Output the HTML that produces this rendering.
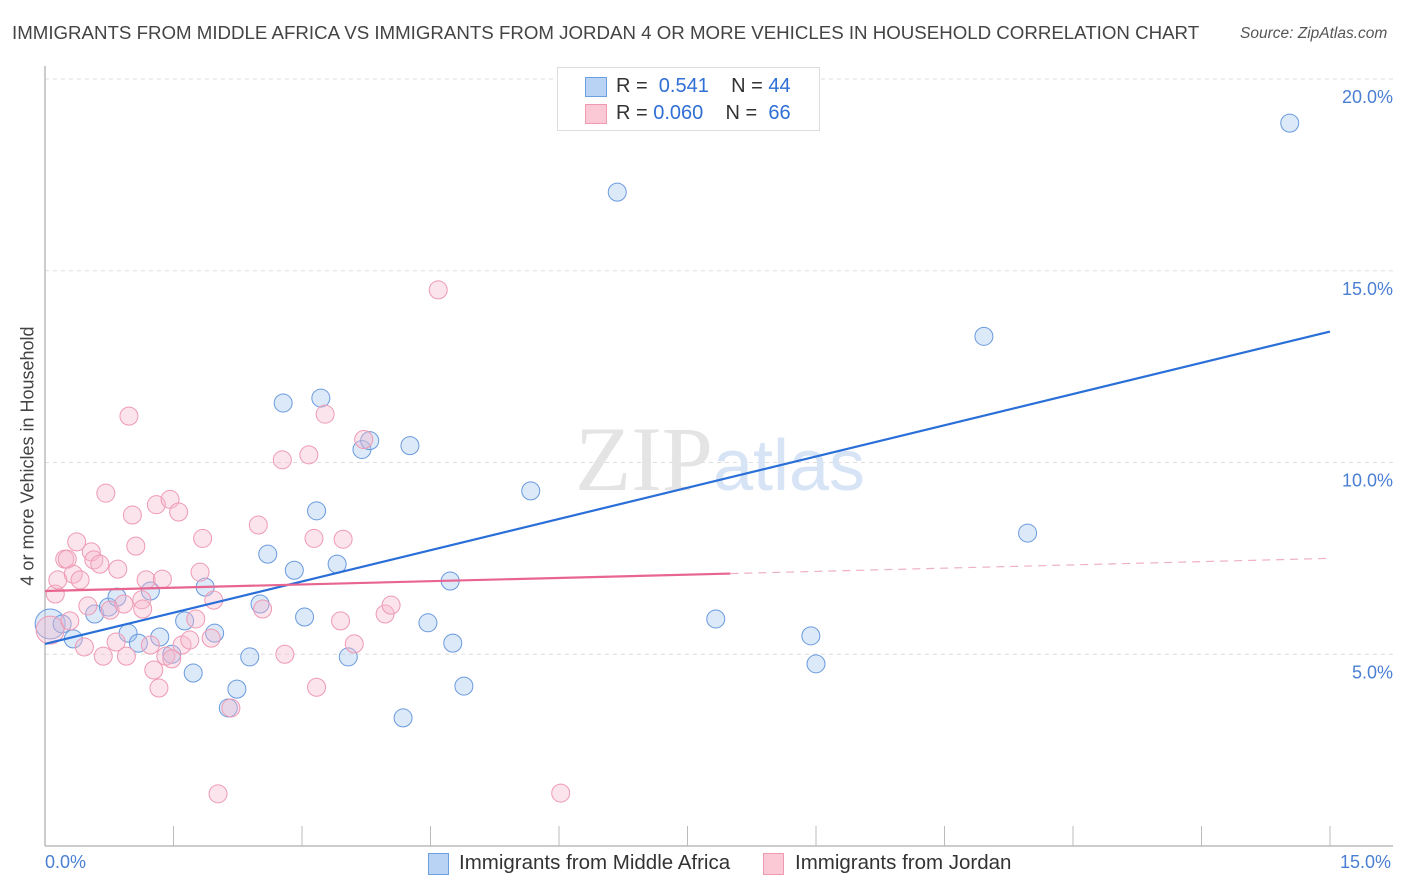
<!DOCTYPE html>
<html><head><meta charset="utf-8"><style>
body{margin:0;background:#fff;font-family:"Liberation Sans",sans-serif;}
#wrap{position:relative;width:1406px;height:892px;overflow:hidden;}
.t{position:absolute;white-space:nowrap;}
</style></head><body>
<div id="wrap">
<div class="t" style="left:12px;top:22px;font-size:18.7px;color:#444;">IMMIGRANTS FROM MIDDLE AFRICA VS IMMIGRANTS FROM JORDAN 4 OR MORE VEHICLES IN HOUSEHOLD CORRELATION CHART</div>
<div class="t" style="left:1240px;top:25px;font-size:15.5px;color:#555;font-style:italic;">Source: ZipAtlas.com</div>
<div class="t" style="left:28px;top:456px;font-size:18px;color:#444;transform:translate(-50%,-50%) rotate(-90deg);">4 or more Vehicles in Household</div>
<svg id="svg" width="1406" height="892" style="position:absolute;left:0;top:0"></svg>
<div style="position:absolute;left:557px;top:67px;width:261px;height:62px;border:1px solid #ddd;background:#fff;">
 <div style="position:absolute;left:27px;top:9px;width:20px;height:18px;background:#b9d3f5;border:1px solid #6e9fe0;"></div>
 <div class="t" style="left:58px;top:7px;font-size:20px;color:#333;">R = &nbsp;<span style="color:#2f6fd6">0.541</span>&nbsp;&nbsp;&nbsp; N = <span style="color:#2f6fd6">44</span></div>
 <div style="position:absolute;left:27px;top:36px;width:20px;height:18px;background:#fbc8d6;border:1px solid #ee9ab2;"></div>
 <div class="t" style="left:58px;top:34px;font-size:20px;color:#333;">R = <span style="color:#2f6fd6">0.060</span>&nbsp;&nbsp;&nbsp; N = &nbsp;<span style="color:#2f6fd6">66</span></div>
</div>
<div class="t" style="left:45px;top:852px;font-size:18px;color:#4a7fd4;">0.0%</div>
<div class="t" style="left:1340px;top:852px;font-size:18px;color:#4a7fd4;">15.0%</div>
<div style="position:absolute;left:428px;top:853px;width:19px;height:20px;background:#b9d3f5;border:1px solid #6e9fe0;"></div>
<div class="t" style="left:459px;top:851px;font-size:20.5px;color:#333;">Immigrants from Middle Africa</div>
<div style="position:absolute;left:763px;top:853px;width:19px;height:20px;background:#fbc8d6;border:1px solid #ee9ab2;"></div>
<div class="t" style="left:795px;top:851px;font-size:20.5px;color:#333;">Immigrants from Jordan</div>
</div>
<script>
const yTicks=[5,10,15,20];
const yTickLabels=["5.0%","10.0%","15.0%","20.0%"];
const xTickCount=10;
const blueX=[0.06,0.2,0.33,0.58,0.74,0.84,0.97,1.09,1.23,1.34,1.48,1.63,1.73,1.87,1.98,2.14,2.24,2.39,2.51,2.6,2.78,2.91,3.03,3.17,3.22,3.41,3.54,3.7,3.79,4.18,4.26,4.47,4.73,4.76,4.89,5.67,6.68,7.83,8.94,9.0,10.96,11.47,14.53];
const blueY=[5.79,5.79,5.4,6.05,6.23,6.49,5.55,5.29,6.65,5.45,5.0,5.87,4.51,6.75,5.55,3.6,4.09,4.93,6.31,7.61,11.55,7.19,5.97,8.74,11.68,7.35,4.93,10.34,10.57,3.34,10.44,5.82,6.91,5.29,4.17,9.26,17.05,5.92,5.48,4.75,13.29,8.16,18.85];
const pinkX=[0.06,0.12,0.15,0.23,0.26,0.29,0.33,0.37,0.41,0.46,0.5,0.54,0.57,0.64,0.68,0.71,0.76,0.83,0.85,0.92,0.95,0.98,1.02,1.06,1.13,1.14,1.18,1.23,1.27,1.3,1.33,1.37,1.41,1.46,1.48,1.56,1.6,1.69,1.76,1.81,1.84,1.94,1.97,2.02,2.17,2.49,2.54,2.77,2.8,3.08,3.14,3.17,3.27,3.45,3.48,3.61,3.72,3.97,4.04,4.59,6.02];
const pinkY=[5.63,6.57,6.94,7.48,7.48,5.87,7.09,7.93,6.94,5.19,6.26,7.67,7.46,7.35,4.95,9.2,6.15,5.32,7.22,6.31,4.95,11.21,8.63,7.82,6.42,6.18,6.94,5.24,4.59,8.9,4.12,6.96,4.95,9.04,4.88,8.71,5.24,5.37,5.92,7.14,8.02,5.42,6.41,1.36,3.6,8.37,6.18,10.07,5.0,10.2,8.02,4.14,11.26,5.87,8.0,5.27,10.6,6.05,6.28,14.5,1.38];
// trend line parameters (intercept, slope)
const blueTrend=[5.27,0.543];
const pinkTrend=[6.65,0.0567];
const pinkSolidEnd=8.0;

const svg=document.getElementById('svg');
const NS='http://www.w3.org/2000/svg';
const X0=45,X1=1330,Y0=846,Y20=79;
const xs=v=>X0+v/15*(X1-X0);
const ys=v=>Y0-v/20*(Y0-Y20);
function mk(tag,attrs){const e=document.createElementNS(NS,tag);for(const k in attrs)e.setAttribute(k,attrs[k]);svg.appendChild(e);return e;}
yTicks.forEach((t,i)=>{
 const g=mk('line',{x1:X0,x2:1393,y1:ys(t),y2:ys(t),stroke:'#ddd','stroke-dasharray':'4,4'});
 
 
 const tx=mk('text',{x:1393,y:ys(t)+24,'text-anchor':'end','font-size':18,fill:'#4a7fd4','font-family':'Liberation Sans, sans-serif'});
 tx.textContent=yTickLabels[i];
 
 
});
const ax=mk('line',{x1:X0,x2:1393,y1:Y0,y2:Y0,stroke:'#bbb','stroke-width':1.5});


const ay=mk('line',{x1:X0,x2:X0,y1:66,y2:Y0,stroke:'#bbb','stroke-width':1.5});


for(let i=0;i<=xTickCount;i++){
 const x=xs(15*i/xTickCount);
 const tk=mk('line',{x1:x,x2:x,y1:826,y2:Y0,stroke:'#bbb'});
 
 
}
const wm=mk('text',{x:720,y:490,'text-anchor':'middle','font-size':92,fill:'#e4e4e4','font-family':'Liberation Serif, serif'});
wm.innerHTML='ZIP<tspan font-family="Liberation Sans, sans-serif" font-size="72" fill="#d7e4f6">atlas</tspan>';


blueX.forEach((v,i)=>{
 const c=mk('circle',{cx:xs(v),cy:ys(blueY[i]),r:i==0?15:9,fill:'rgba(160,196,240,0.38)',stroke:'#6a9ade','stroke-width':1});
 
 
});
pinkX.forEach((v,i)=>{
 const c=mk('circle',{cx:xs(v),cy:ys(pinkY[i]),r:i==0?14:9,fill:'rgba(248,185,205,0.38)',stroke:'#ee9ab3','stroke-width':1});
 
 
});
const bl=mk('line',{x1:xs(0),y1:ys(blueTrend[0]),x2:xs(15),y2:ys(blueTrend[0]+blueTrend[1]*15),stroke:'#2a6fd8','stroke-width':2.2});


const pl=mk('line',{x1:xs(0),y1:ys(pinkTrend[0]),x2:xs(pinkSolidEnd),y2:ys(pinkTrend[0]+pinkTrend[1]*pinkSolidEnd),stroke:'#e8658f','stroke-width':2.2});


const pd=mk('line',{x1:xs(pinkSolidEnd),y1:ys(pinkTrend[0]+pinkTrend[1]*pinkSolidEnd),x2:xs(15),y2:ys(pinkTrend[0]+pinkTrend[1]*15),stroke:'#eeb0c4','stroke-width':1.2,'stroke-dasharray':'8,6'});


</script>
</body></html>
